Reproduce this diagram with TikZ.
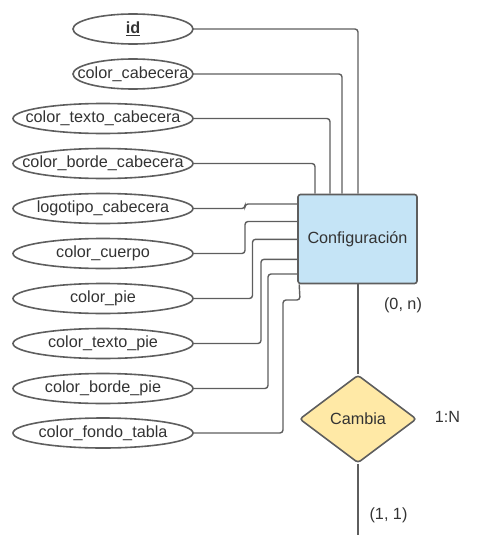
\documentclass[tikz,border=0pt]{standalone}
\usepackage{fontspec}
\setmainfont{Liberation Sans}
\usetikzlibrary{shapes.geometric}
\definecolor{strokec}{HTML}{5E5E5E}
\definecolor{txtc}{HTML}{333333}
\definecolor{entfill}{HTML}{C5E4F6}
\definecolor{relfill}{HTML}{FFE9A6}
\begin{document}
\begin{tikzpicture}[x=1pt,y=-1pt,
  font=\fontsize{16.2}{19}\selectfont,
  attrtext/.style={rectangle, minimum height=30pt, inner sep=0pt, text=txtc},
  attrshape/.style={draw=strokec, line width=1.6pt},
  conn/.style={draw=strokec, line width=1.4pt, rounded corners=3pt},
  entity/.style={rectangle, rounded corners=2.5pt, draw=strokec, line width=1.6pt, fill=entfill, minimum width=119pt, minimum height=89pt, text=txtc},
  relation/.style={diamond, rounded corners=3pt, draw=strokec, line width=1.6pt, fill=relfill, minimum width=117pt, minimum height=88pt, inner sep=0pt, text=txtc},
  card/.style={text=txtc, inner sep=0pt}]
\useasboundingbox (0,0) rectangle (484,535);

% attributes
\node[attrtext, minimum width=120pt] (a1) at (133,29) {\underline{\textbf{id}}};
\node[attrtext, minimum width=120pt] (a2) at (133,74) {color\_cabecera};
\node[attrtext, minimum width=180pt] (a3) at (103,118.5) {color\_texto\_cabecera};
\node[attrtext, minimum width=180pt] (a4) at (103,163.5) {color\_borde\_cabecera};
\node[attrtext, minimum width=180pt] (a5) at (103,208.5) {logotipo\_cabecera};
\node[attrtext, minimum width=180pt] (a6) at (103,253.5) {color\_cuerpo};
\node[attrtext, minimum width=180pt] (a7) at (103,298.5) {color\_pie};
\node[attrtext, minimum width=180pt] (a8) at (103,343.5) {color\_texto\_pie};
\node[attrtext, minimum width=180pt] (a9) at (103,388.5) {color\_borde\_pie};
\node[attrtext, minimum width=180pt] (a10) at (103,433) {color\_fondo\_tabla};

\draw[attrshape] (a1.center) ellipse [x radius=60, y radius=15];
\draw[attrshape] (a2.center) ellipse [x radius=60, y radius=15];
\foreach \n in {a3,a4,a5,a6,a7,a8,a9,a10}
  \draw[attrshape] (\n.center) ellipse [x radius=90, y radius=15];

% entity and relation
\node[entity] (conf) at (357.5,239) {Configuración};
\node[relation] (rel) at (358,419) {Cambia};
\coordinate (bottomend) at (358,535);

% top connectors
\draw[conn] (a1.east) -| ([xshift=0.5pt]conf.north);
\draw[conn] (a2.east) -| ([xshift=-15.5pt]conf.north);
\draw[conn] (a3.east) -| ([xshift=-27.5pt]conf.north);
\draw[conn] (a4.east) -| ([xshift=-42.5pt]conf.north);

% left connectors
\draw[conn] (a5.east) -- (245,208.5) -- (245,204) -- ([yshift=35pt]conf.west);
\draw[conn] (a6.east) -- (245,253.5) -- (245,221.5) -- ([yshift=17.5pt]conf.west);
\draw[conn] (a7.east) -- (252.5,298.5) -- (252.5,239.3) -- ([yshift=-0.3pt]conf.west);
\draw[conn] (a8.east) -- (261,343.5) -- (261,259.3) -- ([yshift=-20.3pt]conf.west);
\draw[conn] (a9.east) -- (268,388.5) -- (268,274) -- ([yshift=-35pt]conf.west);
\draw[conn] (a10.east) -- (283,433) -- (283,300) -- (300,300) -- ([xshift=2pt]conf.south west);

% relation connectors
\draw[conn] ([xshift=0.5pt]conf.south) -- (rel.north);
\draw[conn] (rel.south) -- (bottomend);

% cardinalities
\node[card] (c1) at (403,305) {(0, n)};
\node[card] (c2) at (447.5,417) {1:N};
\node[card] (c3) at (388.5,515) {(1, 1)};
\end{tikzpicture}
\end{document}
